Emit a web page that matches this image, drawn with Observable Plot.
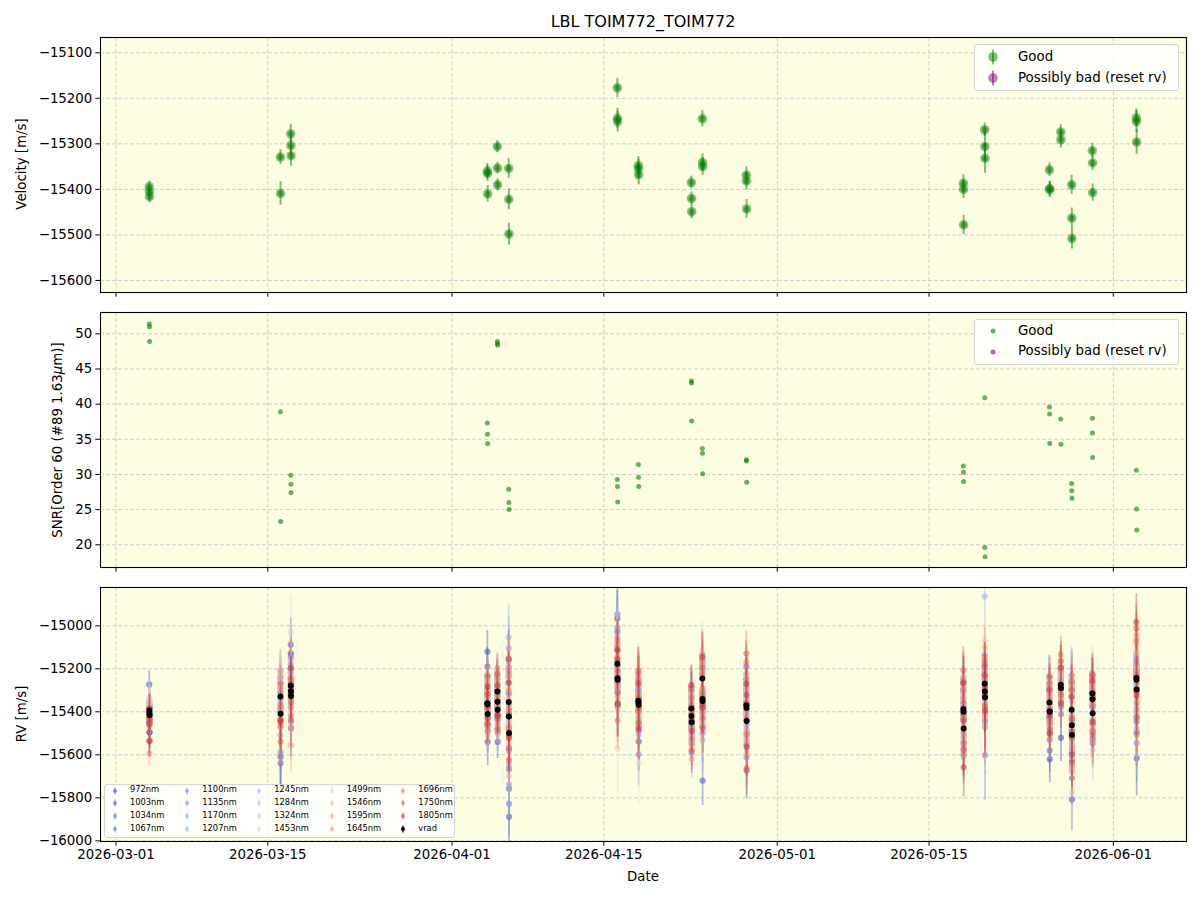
<!DOCTYPE html>
<html>
<head>
<meta charset="utf-8">
<script src="https://cdn.jsdelivr.net/npm/d3@7"></script>
<script src="https://cdn.jsdelivr.net/npm/@observablehq/plot@0.6"></script>
<style>
  html, body { margin: 0; padding: 0; background: #fff; }
  #fig { position: relative; width: 1200px; height: 900px; overflow: hidden; font-family: "DejaVu Sans", sans-serif; color: #000; }
  .abs { position: absolute; white-space: nowrap; }
  .ylab { position: absolute; white-space: nowrap; font-size: 13.33px; transform: translate(-50%, -50%) rotate(-90deg); }
  .legbox { position: absolute; background: rgba(255,255,255,0.8); border: 1px solid #d3d3d3; border-radius: 3px; box-sizing: border-box; }
</style>
</head>
<body>
<div id="fig"></div>
<script>
// ---------------- DATA ----------------
const obsTimes = [
  "2026-03-04T01:40","2026-03-04T02:00","2026-03-04T02:20",
  "2026-03-16T04:00","2026-03-16T04:20",
  "2026-03-17T02:50","2026-03-17T03:10","2026-03-17T03:30",
  "2026-04-04T06:10","2026-04-04T06:30","2026-04-04T06:50",
  "2026-04-05T04:15","2026-04-05T04:35","2026-04-05T04:55",
  "2026-04-06T05:25","2026-04-06T05:45","2026-04-06T06:05",
  "2026-04-16T05:55","2026-04-16T06:15","2026-04-16T06:35",
  "2026-04-18T04:30","2026-04-18T04:50","2026-04-18T05:10",
  "2026-04-23T01:50","2026-04-23T02:10","2026-04-23T02:30",
  "2026-04-24T02:05","2026-04-24T02:25","2026-04-24T02:45",
  "2026-04-28T03:30","2026-04-28T03:50","2026-04-28T04:10",
  "2026-05-18T04:00","2026-05-18T04:20","2026-05-18T04:40",
  "2026-05-20T03:15","2026-05-20T03:35","2026-05-20T03:55",
  "2026-05-26T02:35","2026-05-26T02:55","2026-05-26T03:15",
  "2026-05-27T03:40","2026-05-27T04:00",
  "2026-05-28T03:45","2026-05-28T04:05","2026-05-28T04:25",
  "2026-05-30T01:35","2026-05-30T01:55","2026-05-30T02:15",
  "2026-06-03T03:00","2026-06-03T03:20","2026-06-03T03:40"
];

// velocity (= vrad) in m/s
const velocity = [
  -15394,-15405,-15416,
  -15329,-15409,
  -15278,-15304,-15326,
  -15360,-15365,-15410,
  -15306,-15353,-15390,
  -15354,-15422,-15498,
  -15177,-15244,-15251,
  -15348,-15355,-15368,
  -15385,-15420,-15449,
  -15245,-15341,-15350,
  -15369,-15382,-15443,
  -15387,-15400,-15478,
  -15269,-15306,-15332,
  -15357,-15399,-15400,
  -15274,-15291,
  -15390,-15463,-15508,
  -15315,-15342,-15407,
  -15243,-15251,-15296
];

const velocityErr = [
  12,12,13, 16,26, 21,22,23, 17,18,18, 13,13,13, 22,23,24, 21,22,23,
  20,21,22, 14,14,16, 18,19,20, 19,19,21, 19,20,21, 15,31,33, 15,16,18,
  16,18, 21,22,23, 16,17,19, 20,24,27
];

const snr = [
  51.4,51.0,48.9, 38.9,23.3, 29.9,28.6,27.4, 37.3,35.7,34.4, 48.9,48.6,48.4,
  27.9,26.0,25.0, 29.3,28.3,26.1, 31.4,29.6,28.3, 43.3,43.0,37.6,
  33.7,33.0,30.1, 32.1,31.9,28.9, 31.2,30.3,29.0, 40.9,19.6,18.3,
  39.6,38.6,34.4, 37.9,34.3, 28.7,27.7,26.6, 38.0,35.9,32.4, 30.6,25.1,22.1
];

const wavelengths = [972,1003,1034,1067,1100,1135,1170,1207,1245,1284,1324,1453,1499,1546,1595,1645,1696,1750,1805];

// per-line RV minus vrad (m/s), one row per observation, one column per wavelength
const lineRvOffset = [
  [120,40,-60,-20,30,-10,20,10,40,60,30,50,20,-10,-30,-200,-40,-140,-60],
  [-90,-50,30,10,-40,20,-30,0,10,-20,40,20,30,40,10,-20,-60,-30,20],
  [-80,20,-30,40,0,-20,10,-30,20,0,-10,10,-20,20,-40,30,-10,30,-120],
  [-60,40,90,20,120,60,-20,80,30,-10,60,100,40,70,110,20,-40,60,-110],
  [-200,-230,-60,30,-180,10,-100,-20,50,80,-40,20,-10,40,-60,10,-30,-130,-40],
  [190,150,60,100,80,130,40,20,70,-20,110,250,60,30,-40,10,-60,30,80],
  [-20,60,170,-60,20,-30,110,150,-10,40,0,30,-30,50,10,-80,40,-20,-10],
  [-150,-90,20,-120,-50,40,-20,60,30,-40,80,10,-70,-90,-140,-230,-30,-110,40],
  [240,170,60,110,30,80,-20,40,10,70,-30,50,100,20,60,90,130,40,-10],
  [-90,20,130,-40,100,10,60,-60,40,-10,20,-40,10,-50,-30,-20,50,-90,80],
  [-130,-80,20,60,-20,-50,40,30,-60,10,90,0,-30,40,-100,20,-60,30,-20],
  [60,20,-40,80,40,10,90,50,30,-20,70,20,40,100,60,20,110,80,30],
  [-30,50,20,-10,-40,30,0,-60,20,40,-20,60,-10,10,-30,30,-20,40,-60],
  [-150,-90,-50,20,-70,-30,-110,-40,10,-60,30,-20,-40,-70,-10,-90,-100,-40,-30],
  [200,120,40,160,90,190,250,300,150,80,130,20,60,110,170,50,140,200,90],
  [-60,30,-150,10,60,-80,100,-40,-20,50,-10,80,-30,20,-70,40,-50,10,-100],
  [-390,-260,-170,-330,-80,-240,-150,-60,-120,10,-200,-60,30,-40,-90,-20,-70,-130,-10],
  [210,150,90,230,170,120,60,140,80,30,100,40,60,120,90,30,110,70,20],
  [-20,60,-40,20,80,-60,30,-20,50,-10,0,110,30,-30,20,60,-20,40,130],
  [-120,-60,10,-110,-40,40,-80,20,-50,60,-30,-320,-60,-90,-140,-20,-190,-60,-110],
  [60,40,100,20,120,90,70,50,30,80,110,20,60,90,120,100,130,140,80],
  [-40,20,-30,60,10,-50,30,-20,40,-10,20,-60,-20,30,-10,40,-40,20,0],
  [-170,-120,-60,-20,-90,-230,-140,-80,-40,-110,-60,-270,-70,-30,-50,-100,-20,-80,-110],
  [100,60,20,80,40,10,50,30,70,40,90,60,30,80,100,20,50,90,110],
  [-30,10,-50,30,-10,40,-20,10,-40,20,0,-30,30,-10,-60,10,-40,30,-20],
  [-100,-60,-30,-140,-20,-80,-50,10,-40,-70,-20,-10,-60,-90,-120,-170,-80,-130,-40],
  [90,70,40,110,60,20,80,50,100,40,70,90,130,60,30,80,20,50,100],
  [-60,30,-20,50,-40,10,-10,40,20,-30,0,60,20,-10,50,-20,30,10,-40],
  [-120,-370,-80,-40,-150,-100,-30,-180,-60,10,-70,-90,-40,-20,-110,-60,-80,-130,-20],
  [80,120,180,60,100,40,140,70,90,30,60,110,50,80,150,120,200,240,100],
  [-30,40,-10,20,-60,30,10,-40,20,-20,0,40,-30,10,-10,30,-50,20,60],
  [-230,-110,-60,-170,-40,-90,-20,-130,-60,-80,-30,-10,-50,-70,-100,-150,-60,-220,-120],
  [120,90,50,140,80,60,30,100,70,40,20,60,110,80,150,90,130,180,120],
  [-30,20,-10,40,-40,10,-20,30,0,-50,30,-10,20,-30,10,-20,40,-10,-40],
  [-90,-60,-120,-40,-20,-70,-100,-30,-60,10,-40,-80,-50,-110,-20,-130,-70,-100,-180],
  [130,80,40,100,60,20,90,405,50,70,30,150,200,120,170,60,110,80,40],
  [-20,40,-60,10,-30,50,-10,20,60,-40,80,30,-20,40,10,-30,60,-10,20],
  [-110,-70,-30,-270,-90,-140,-50,-20,-80,-40,-100,-60,-30,-50,-90,-120,-70,-40,-60],
  [60,90,20,120,50,80,30,70,40,100,60,20,50,110,80,40,90,120,60],
  [-40,10,-20,30,-10,20,40,-30,10,-20,0,30,-40,20,-10,50,-30,10,-20],
  [-220,-180,-60,-130,-100,-30,-80,-50,-90,-20,-40,-70,-10,-60,-30,-110,-50,-80,-100],
  [60,30,80,10,50,20,40,70,30,60,20,90,50,40,100,70,140,110,80],
  [-230,-80,-40,-120,-30,-60,-90,-20,-50,-10,-70,-30,20,-40,-20,-60,10,-30,-70],
  [120,90,160,60,130,100,70,140,40,90,110,60,80,120,150,100,130,90,60],
  [-20,40,-60,30,-40,10,-30,50,0,-50,20,-20,40,-10,-40,20,-60,30,-30],
  [-300,-120,-200,-80,-150,-60,-110,-40,-90,-30,-70,-270,-50,-100,-140,-60,-170,-130,-90],
  [50,20,80,40,60,90,30,70,50,20,40,60,100,70,30,50,80,90,60],
  [-30,10,-20,30,-40,0,20,-10,10,-30,20,-20,30,-10,0,20,-30,10,30],
  [-120,-80,-50,-140,-30,-90,-60,-110,-40,-170,-70,-20,-60,-90,-130,-50,-80,-100,-40],
  [60,90,30,110,50,20,80,40,70,100,60,130,150,120,180,200,170,230,260],
  [-40,20,-60,40,-20,30,-10,50,10,-30,20,-40,30,60,-10,40,80,20,-50],
  [-320,-200,-150,-90,-250,-130,-70,-110,-180,-60,-120,-40,-80,-20,-100,-60,-210,-130,-30]
];

// typical per-line error (m/s) and per-observation error scale
const lineErrBase = [110,100,95,110,115,115,120,125,130,135,140,150,130,120,110,100,95,100,115];
const lineErrScale = [
  0.6,0.6,0.65, 0.85,1.4, 1.15,1.2,1.25, 0.9,0.95,1.0, 0.7,0.7,0.7, 1.25,1.35,1.4,
  1.2,1.25,1.35, 1.1,1.2,1.25, 0.8,0.8,0.9, 1.0,1.05,1.15, 1.05,1.1,1.2, 1.1,1.15,1.2,
  0.85,1.8,1.9, 0.9,0.9,1.0, 0.9,1.0, 1.2,1.25,1.3, 0.9,0.95,1.05, 1.15,1.4,1.6
];

const xTickLabels = ["2026-03-01","2026-03-15","2026-04-01","2026-04-15","2026-05-01","2026-05-15","2026-06-01"];
const velTicks = [-15100,-15200,-15300,-15400,-15500,-15600];
const snrTicks = [20,25,30,35,40,45,50];
const rvTicks = [-15000,-15200,-15400,-15600,-15800,-16000];

// coolwarm colormap stops
const cmapPos = [0, 1/7, 2/7, 3/7, 0.5, 4/7, 5/7, 6/7, 1];
const cmapCol = ["#3b4cc0","#6788ee","#9abbff","#c9d7f0","#dddcdc","#edd1c2","#f7a889","#e26952","#b40426"];

// ---------------- RENDER ----------------
const BG = "#fdfde2";
const GRID = "#c8c8d0";
const X_DOMAIN = [new Date("2026-02-27T13:40:00Z"), new Date("2026-06-07T18:00:00Z")];
const tDates = obsTimes.map(s => new Date(s + ":00Z"));
const xTicks = xTickLabels.map(s => new Date(s + "T00:00:00Z"));
const fig = document.getElementById("fig");
const cmap = d3.scaleLinear().domain(cmapPos).range(cmapCol).interpolate(d3.interpolateRgb);
const wMin = d3.min(wavelengths), wMax = d3.max(wavelengths);
const lineColor = w => cmap(0.93 * (w - wMin) / (wMax - wMin));

function makePanel(top, height, mt, mb, yDomain, yTicks, dataMarks, showX) {
  const svg = Plot.plot({
    width: 1200, height,
    marginLeft: 100, marginRight: 14, marginTop: mt, marginBottom: mb,
    style: { fontFamily: '"DejaVu Sans", sans-serif', fontSize: "13.33px", background: "transparent", overflow: "visible", color: "black" },
    x: { type: "utc", domain: X_DOMAIN },
    y: { domain: yDomain },
    marks: [
      Plot.frame({ fill: BG, stroke: "none" }),
      Plot.gridX(xTicks, { stroke: GRID, strokeOpacity: 1, strokeWidth: 0.9, strokeDasharray: "4,2" }),
      Plot.gridY(yTicks, { stroke: GRID, strokeOpacity: 1, strokeWidth: 0.9, strokeDasharray: "4,2" }),
      ...dataMarks,
      Plot.frame({ stroke: "black", strokeWidth: 1.1 }),
      Plot.axisY(yTicks, { tickSize: 4.7, tickPadding: 3.5, label: null, tickFormat: d3.format("d") }),
      Plot.axisX(xTicks, { tickSize: 4.7, tickPadding: 3.5, label: null,
        tickFormat: showX ? d3.utcFormat("%Y-%m-%d") : () => "" })
    ]
  });
  svg.style.position = "absolute";
  svg.style.left = "0px";
  svg.style.top = top + "px";
  fig.appendChild(svg);
}

// Panel 1: velocity
const velRows = obsTimes.map((_, i) => ({ t: tDates[i], v: velocity[i], e: velocityErr[i] }));
makePanel(27, 275, 10, 10, [-15626.5, -15066.4], velTicks, [
  Plot.ruleX(velRows, { x: "t", y1: d => d.v - d.e, y2: d => d.v + d.e, stroke: "green", strokeOpacity: 0.5, strokeWidth: 2 }),
  Plot.dot(velRows, { x: "t", y: "v", r: 4.8, fill: "green", fillOpacity: 0.45 }),
  Plot.dot(velRows, { x: "t", y: "v", r: 3, fill: "green", fillOpacity: 0.5 })
], false);

// Panel 2: SNR
const snrRows = obsTimes.map((_, i) => ({ t: tDates[i], s: snr[i] }));
makePanel(302, 275, 10, 10, [16.77, 53.03], snrTicks, [
  Plot.dot(snrRows, { x: "t", y: "s", r: 2.5, fill: "green", fillOpacity: 0.6 })
], false);

// Panel 3: per-line RV
const rvMarks = [];
wavelengths.forEach((w, j) => {
  const rows = obsTimes.map((_, i) => ({
    t: tDates[i], rv: velocity[i] + lineRvOffset[i][j], e: lineErrBase[j] * lineErrScale[i]
  }));
  const c = lineColor(w);
  rvMarks.push(Plot.ruleX(rows, { x: "t", y1: d => d.rv - d.e, y2: d => d.rv + d.e, stroke: c, strokeOpacity: 0.4, strokeWidth: 1.7, clip: true }));
  rvMarks.push(Plot.dot(rows, { x: "t", y: "rv", r: 3.1, fill: c, fillOpacity: 0.55, clip: true }));
});
rvMarks.push(Plot.dot(velRows, { x: "t", y: "v", r: 3, fill: "black", clip: true }));
makePanel(577, 323, 10, 59, [-16003, -14822], rvTicks, rvMarks, true);

// ---------------- TEXT ----------------
function addDiv(cls, html, css) {
  const d = document.createElement("div");
  d.className = cls;
  d.innerHTML = html;
  Object.assign(d.style, css);
  fig.appendChild(d);
  return d;
}
addDiv("abs", "LBL TOIM772_TOIM772", { left: "0px", width: "1286px", textAlign: "center", top: "12px", fontSize: "16px" });
addDiv("ylab", "Velocity [m/s]", { left: "21px", top: "164px" });
addDiv("ylab", "SNR[Order 60 (#89 1.63<i>μ</i>m)]", { left: "57px", top: "440px" });
addDiv("ylab", "RV [m/s]", { left: "21px", top: "714px" });
addDiv("abs", "Date", { left: "0px", width: "1286px", textAlign: "center", top: "869px", fontSize: "13.33px" });

// ---------------- LEGENDS ----------------
function marker(color, r, lineH, lineW, fo, lo) {
  const s = 20;
  return `<svg width="${s}" height="${s}" style="position:absolute;left:${-s/2}px;top:${-s/2}px;overflow:visible">` +
    (lineH > 0 ? `<line x1="${s/2}" x2="${s/2}" y1="${s/2 - lineH/2}" y2="${s/2 + lineH/2}" stroke="${color}" stroke-opacity="${lo}" stroke-width="${lineW}"/>` : "") +
    `<circle cx="${s/2}" cy="${s/2}" r="${r}" fill="${color}" fill-opacity="${fo}"/></svg>`;
}
function legendItem(mx, my, mk, tx, text, fs) {
  addDiv("abs", mk, { left: mx + "px", top: my + "px", width: "0px", height: "0px" });
  addDiv("abs", text, { left: tx + "px", top: (my - fs * 0.62) + "px", fontSize: fs + "px", lineHeight: (fs * 1.2) + "px" });
}
// legend 1
addDiv("legbox", "", { left: "974px", top: "44px", width: "205px", height: "47px" });
legendItem(993, 57, marker("green", 4.8, 15, 2, 0.5, 0.5), 1018, "Good", 13.33);
legendItem(993, 78, marker("purple", 4.8, 15, 2, 0.5, 0.5), 1018, "Possibly bad (reset rv)", 13.33);
// legend 2
addDiv("legbox", "", { left: "974px", top: "319px", width: "205px", height: "46px" });
legendItem(993, 331, marker("green", 2.5, 0, 0, 0.6, 0), 1018, "Good", 13.33);
legendItem(993, 351.5, marker("purple", 2.5, 0, 0, 0.6, 0), 1018, "Possibly bad (reset rv)", 13.33);
// legend 3
addDiv("legbox", "", { left: "104px", top: "784px", width: "351px", height: "54px" });
const legEntries = wavelengths.map(w => ({ label: w + "nm", color: lineColor(w), fo: 0.55 }))
  .concat([{ label: "vrad", color: "black", fo: 1 }]);
const colMx = [115, 187.3, 259.3, 331.7, 403.3];
const colTx = [130, 202.3, 274.3, 346.7, 418.3];
const rowY = [790.5, 803.3, 816, 828.7];
legEntries.forEach((e, k) => {
  const col = Math.floor(k / 4), row = k % 4;
  legendItem(colMx[col], rowY[row], marker(e.color, 2.1, 7, 1.4, e.fo, e.fo * 0.9), colTx[col], e.label, 8.3);
});
</script>
</body>
</html>
